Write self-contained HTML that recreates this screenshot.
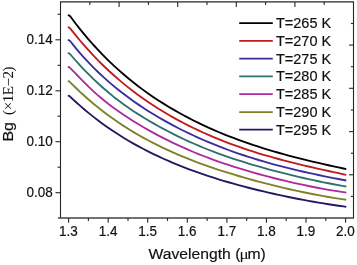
<!DOCTYPE html>
<html><head><meta charset="utf-8"><title>chart</title>
<style>html,body{margin:0;padding:0;background:#fff}svg{display:block;will-change:transform}text{font-family:"Liberation Sans",sans-serif;fill:#111;stroke:#111;stroke-width:0.18px}.s{font-family:"Liberation Serif",serif}</style></head><body>
<svg width="357" height="265" viewBox="0 0 357 265">
<rect width="357" height="265" fill="#fff"/>
<g stroke="#262626" stroke-width="1.1" fill="none">
<path d="M60.5,218.0 L60.5,1.9 L353.5,1.9 L353.5,218.0"/>
<line x1="57.9" y1="218.0" x2="354.05" y2="218.0" stroke-width="1.6" stroke="#444"/>
<line x1="68.6" y1="218.0" x2="68.6" y2="222.8"/>
<line x1="88.4" y1="218.0" x2="88.4" y2="220.9"/>
<line x1="108.2" y1="218.0" x2="108.2" y2="222.8"/>
<line x1="128.0" y1="218.0" x2="128.0" y2="220.9"/>
<line x1="147.7" y1="218.0" x2="147.7" y2="222.8"/>
<line x1="167.5" y1="218.0" x2="167.5" y2="220.9"/>
<line x1="187.3" y1="218.0" x2="187.3" y2="222.8"/>
<line x1="207.1" y1="218.0" x2="207.1" y2="220.9"/>
<line x1="226.9" y1="218.0" x2="226.9" y2="222.8"/>
<line x1="246.7" y1="218.0" x2="246.7" y2="220.9"/>
<line x1="266.4" y1="218.0" x2="266.4" y2="222.8"/>
<line x1="286.2" y1="218.0" x2="286.2" y2="220.9"/>
<line x1="306.0" y1="218.0" x2="306.0" y2="222.8"/>
<line x1="325.8" y1="218.0" x2="325.8" y2="220.9"/>
<line x1="345.6" y1="218.0" x2="345.6" y2="222.8"/>
<line x1="60.5" y1="39.8" x2="55.5" y2="39.8"/>
<line x1="60.5" y1="90.8" x2="55.5" y2="90.8"/>
<line x1="60.5" y1="141.7" x2="55.5" y2="141.7"/>
<line x1="60.5" y1="192.7" x2="55.5" y2="192.7"/>
<line x1="60.5" y1="14.3" x2="57.5" y2="14.3"/>
<line x1="60.5" y1="65.3" x2="57.5" y2="65.3"/>
<line x1="60.5" y1="116.2" x2="57.5" y2="116.2"/>
<line x1="60.5" y1="167.2" x2="57.5" y2="167.2"/>
<line x1="89.8" y1="1.9" x2="89.8" y2="4.9"/>
<line x1="119.1" y1="1.9" x2="119.1" y2="6.9"/>
<line x1="148.4" y1="1.9" x2="148.4" y2="4.9"/>
<line x1="177.7" y1="1.9" x2="177.7" y2="6.9"/>
<line x1="207.0" y1="1.9" x2="207.0" y2="4.9"/>
<line x1="236.3" y1="1.9" x2="236.3" y2="6.9"/>
<line x1="265.6" y1="1.9" x2="265.6" y2="4.9"/>
<line x1="294.9" y1="1.9" x2="294.9" y2="6.9"/>
<line x1="324.2" y1="1.9" x2="324.2" y2="4.9"/>
<line x1="353.5" y1="23.5" x2="350.9" y2="23.5"/>
<line x1="353.5" y1="45.1" x2="349.1" y2="45.1"/>
<line x1="353.5" y1="66.7" x2="350.9" y2="66.7"/>
<line x1="353.5" y1="88.3" x2="349.1" y2="88.3"/>
<line x1="353.5" y1="110.0" x2="350.9" y2="110.0"/>
<line x1="353.5" y1="131.6" x2="349.1" y2="131.6"/>
<line x1="353.5" y1="153.2" x2="350.9" y2="153.2"/>
<line x1="353.5" y1="174.8" x2="349.1" y2="174.8"/>
<line x1="353.5" y1="196.4" x2="350.9" y2="196.4"/>
</g>
<g fill="none" stroke-width="1.85" stroke-linecap="butt" stroke-linejoin="round">
<path d="M67.8,95.52 L69.3,95.92 L70.3,96.82 L71.5,97.96 L73.0,99.36 L75.0,101.2 L77.0,103.02 L80.0,105.68 L83.5,108.71 L88.5,112.88 L93.5,116.88 L98.5,120.72 L103.5,124.4 L108.5,127.94 L113.5,131.33 L118.5,134.59 L123.5,137.71 L128.5,140.71 L133.5,143.6 L138.5,146.37 L143.5,149.04 L148.5,151.6 L153.5,154.07 L158.5,156.45 L163.5,158.73 L168.5,160.94 L173.5,163.07 L178.5,165.12 L183.5,167.1 L188.5,169.02 L193.5,170.87 L198.5,172.66 L203.5,174.39 L208.5,176.07 L213.5,177.69 L218.5,179.26 L223.5,180.78 L228.5,182.26 L233.5,183.7 L238.5,185.09 L243.5,186.44 L248.5,187.75 L253.5,189.02 L258.5,190.26 L263.5,191.46 L268.5,192.63 L273.5,193.76 L278.5,194.86 L283.5,195.94 L288.5,196.98 L293.5,197.99 L298.5,198.97 L303.5,199.92 L308.5,200.84 L313.5,201.73 L318.5,202.59 L323.5,203.42 L328.5,204.22 L333.5,204.99 L338.5,205.73 L343.5,206.44 L346.3,206.83" stroke="#23195f"/>
<path d="M67.8,81.05 L69.3,81.45 L70.3,82.35 L71.5,83.56 L73.0,85.06 L75.0,87.03 L77.0,88.96 L80.0,91.81 L83.5,95.03 L88.5,99.48 L93.5,103.74 L98.5,107.82 L103.5,111.74 L108.5,115.5 L113.5,119.1 L118.5,122.55 L123.5,125.87 L128.5,129.05 L133.5,132.1 L138.5,135.04 L143.5,137.85 L148.5,140.56 L153.5,143.17 L158.5,145.67 L163.5,148.09 L168.5,150.41 L173.5,152.66 L178.5,154.82 L183.5,156.91 L188.5,158.93 L193.5,160.88 L198.5,162.77 L203.5,164.6 L208.5,166.37 L213.5,168.09 L218.5,169.76 L223.5,171.38 L228.5,172.96 L233.5,174.49 L238.5,175.99 L243.5,177.44 L248.5,178.86 L253.5,180.24 L258.5,181.58 L263.5,182.9 L268.5,184.18 L273.5,185.42 L278.5,186.64 L283.5,187.82 L288.5,188.98 L293.5,190.1 L298.5,191.18 L303.5,192.24 L308.5,193.26 L313.5,194.24 L318.5,195.19 L323.5,196.1 L328.5,196.97 L333.5,197.81 L338.5,198.59 L343.5,199.33 L346.3,199.73" stroke="#808026"/>
<path d="M67.8,66.84 L69.3,67.24 L70.3,68.14 L71.5,69.35 L73.0,70.88 L75.0,72.93 L77.0,74.99 L80.0,78.07 L83.5,81.63 L88.5,86.59 L93.5,91.33 L98.5,95.82 L103.5,100.03 L108.5,104.0 L113.5,107.75 L118.5,111.32 L123.5,114.74 L128.5,118.03 L133.5,121.2 L138.5,124.27 L143.5,127.24 L148.5,130.11 L153.5,132.89 L158.5,135.58 L163.5,138.18 L168.5,140.69 L173.5,143.11 L178.5,145.45 L183.5,147.71 L188.5,149.9 L193.5,152.01 L198.5,154.04 L203.5,156.01 L208.5,157.92 L213.5,159.76 L218.5,161.54 L223.5,163.27 L228.5,164.94 L233.5,166.57 L238.5,168.14 L243.5,169.67 L248.5,171.16 L253.5,172.6 L258.5,174.01 L263.5,175.37 L268.5,176.7 L273.5,177.99 L278.5,179.24 L283.5,180.46 L288.5,181.64 L293.5,182.79 L298.5,183.9 L303.5,184.97 L308.5,186.01 L313.5,187.02 L318.5,187.98 L323.5,188.91 L328.5,189.8 L333.5,190.65 L338.5,191.45 L343.5,192.21 L346.3,192.62" stroke="#ad2c9b"/>
<path d="M67.8,53.08 L69.3,53.48 L70.3,54.38 L71.5,55.77 L73.0,57.49 L75.0,59.76 L77.0,61.99 L80.0,65.28 L83.5,69.01 L88.5,74.15 L93.5,79.08 L98.5,83.79 L103.5,88.28 L108.5,92.56 L113.5,96.65 L118.5,100.54 L123.5,104.25 L128.5,107.78 L133.5,111.17 L138.5,114.4 L143.5,117.51 L148.5,120.5 L153.5,123.39 L158.5,126.19 L163.5,128.91 L168.5,131.54 L173.5,134.1 L178.5,136.58 L183.5,138.98 L188.5,141.29 L193.5,143.53 L198.5,145.68 L203.5,147.76 L208.5,149.76 L213.5,151.69 L218.5,153.55 L223.5,155.35 L228.5,157.09 L233.5,158.77 L238.5,160.41 L243.5,161.99 L248.5,163.53 L253.5,165.02 L258.5,166.48 L263.5,167.89 L268.5,169.27 L273.5,170.62 L278.5,171.93 L283.5,173.2 L288.5,174.45 L293.5,175.66 L298.5,176.85 L303.5,178.0 L308.5,179.12 L313.5,180.21 L318.5,181.27 L323.5,182.29 L328.5,183.28 L333.5,184.24 L338.5,185.16 L343.5,186.04 L346.3,186.51" stroke="#2f6f6f"/>
<path d="M67.8,39.97 L69.3,40.37 L70.3,41.27 L71.5,42.8 L73.0,44.69 L75.0,47.15 L77.0,49.56 L80.0,53.08 L83.5,57.05 L88.5,62.46 L93.5,67.6 L98.5,72.5 L103.5,77.16 L108.5,81.6 L113.5,85.85 L118.5,89.92 L123.5,93.82 L128.5,97.57 L133.5,101.16 L138.5,104.63 L143.5,107.96 L148.5,111.17 L153.5,114.27 L158.5,117.26 L163.5,120.14 L168.5,122.92 L173.5,125.61 L178.5,128.21 L183.5,130.73 L188.5,133.16 L193.5,135.51 L198.5,137.79 L203.5,140.0 L208.5,142.13 L213.5,144.2 L218.5,146.2 L223.5,148.13 L228.5,150.0 L233.5,151.81 L238.5,153.56 L243.5,155.25 L248.5,156.89 L253.5,158.47 L258.5,160.0 L263.5,161.48 L268.5,162.91 L273.5,164.29 L278.5,165.63 L283.5,166.93 L288.5,168.18 L293.5,169.4 L298.5,170.59 L303.5,171.74 L308.5,172.85 L313.5,173.94 L318.5,175.01 L323.5,176.04 L328.5,177.06 L333.5,178.06 L338.5,179.03 L343.5,180.0 L346.3,180.53" stroke="#3a2d9c"/>
<path d="M67.8,27.22 L69.3,27.62 L70.3,28.52 L71.5,30.06 L73.0,31.95 L75.0,34.45 L77.0,36.9 L80.0,40.5 L83.5,44.58 L88.5,50.21 L93.5,55.6 L98.5,60.77 L103.5,65.73 L108.5,70.48 L113.5,75.04 L118.5,79.42 L123.5,83.62 L128.5,87.65 L133.5,91.53 L138.5,95.25 L143.5,98.83 L148.5,102.27 L153.5,105.58 L158.5,108.76 L163.5,111.83 L168.5,114.78 L173.5,117.63 L178.5,120.38 L183.5,123.02 L188.5,125.58 L193.5,128.04 L198.5,130.42 L203.5,132.72 L208.5,134.93 L213.5,137.07 L218.5,139.14 L223.5,141.13 L228.5,143.05 L233.5,144.91 L238.5,146.7 L243.5,148.42 L248.5,150.09 L253.5,151.7 L258.5,153.26 L263.5,154.77 L268.5,156.23 L273.5,157.64 L278.5,159.01 L283.5,160.34 L288.5,161.63 L293.5,162.89 L298.5,164.12 L303.5,165.32 L308.5,166.5 L313.5,167.65 L318.5,168.79 L323.5,169.91 L328.5,171.02 L333.5,172.12 L338.5,173.22 L343.5,174.31 L346.3,174.93" stroke="#c21a1e"/>
<path d="M67.8,15.12 L69.3,15.52 L70.3,16.42 L71.5,18.05 L73.0,20.06 L75.0,22.7 L77.0,25.29 L80.0,29.1 L83.5,33.41 L88.5,39.33 L93.5,45.0 L98.5,50.42 L103.5,55.61 L108.5,60.58 L113.5,65.35 L118.5,69.91 L123.5,74.29 L128.5,78.49 L133.5,82.53 L138.5,86.4 L143.5,90.13 L148.5,93.7 L153.5,97.14 L158.5,100.45 L163.5,103.64 L168.5,106.71 L173.5,109.66 L178.5,112.51 L183.5,115.26 L188.5,117.91 L193.5,120.46 L198.5,122.93 L203.5,125.31 L208.5,127.61 L213.5,129.83 L218.5,131.98 L223.5,134.05 L228.5,136.05 L233.5,137.98 L238.5,139.85 L243.5,141.66 L248.5,143.4 L253.5,145.09 L258.5,146.72 L263.5,148.31 L268.5,149.84 L273.5,151.32 L278.5,152.76 L283.5,154.16 L288.5,155.52 L293.5,156.84 L298.5,158.13 L303.5,159.38 L308.5,160.61 L313.5,161.8 L318.5,162.97 L323.5,164.12 L328.5,165.25 L333.5,166.35 L338.5,167.45 L343.5,168.52 L346.3,169.12" stroke="#000000"/>
</g>
<g font-size="13.5" text-anchor="end">
<text transform="translate(52.8,44.1) scale(1,1.045)">0.14</text>
<text transform="translate(52.8,95.0) scale(1,1.045)">0.12</text>
<text transform="translate(52.8,146.0) scale(1,1.045)">0.10</text>
<text transform="translate(52.8,197.0) scale(1,1.045)">0.08</text>
</g>
<g font-size="13.5" text-anchor="middle">
<text transform="translate(68.5,236.2) scale(1,1.045)">1.3</text>
<text transform="translate(108.1,236.2) scale(1,1.045)">1.4</text>
<text transform="translate(147.6,236.2) scale(1,1.045)">1.5</text>
<text transform="translate(187.2,236.2) scale(1,1.045)">1.6</text>
<text transform="translate(226.8,236.2) scale(1,1.045)">1.7</text>
<text transform="translate(266.3,236.2) scale(1,1.045)">1.8</text>
<text transform="translate(305.9,236.2) scale(1,1.045)">1.9</text>
<text transform="translate(345.5,236.2) scale(1,1.045)">2.0</text>
</g>
<text transform="translate(148.5,259.0) scale(1,0.89)" font-size="15.7">Wavelength (</text>
<text class="s" transform="translate(239.4,259.0) scale(1.15,0.93)" font-size="14.8" style="stroke-width:0.05px">μ</text>
<text transform="translate(247.4,259.0) scale(1,0.89)" font-size="15.7">m)</text>
<text transform="translate(13.3,141.6) rotate(-90) scale(1,0.93)" font-size="16">Bg</text>
<text class="s" transform="translate(12.6,114.9) rotate(-90) scale(1,0.96)" font-size="15" letter-spacing="-0.44" style="stroke-width:0.08px">(×1E−2)</text>
<g stroke-width="1.75" fill="none">
<line x1="239.2" y1="23.0" x2="272.8" y2="23.0" stroke="#000000"/>
<line x1="239.2" y1="40.8" x2="272.8" y2="40.8" stroke="#c21a1e"/>
<line x1="239.2" y1="58.5" x2="272.8" y2="58.5" stroke="#3a2d9c"/>
<line x1="239.2" y1="76.4" x2="272.8" y2="76.4" stroke="#2f6f6f"/>
<line x1="239.2" y1="94.0" x2="272.8" y2="94.0" stroke="#ad2c9b"/>
<line x1="239.2" y1="112.0" x2="272.8" y2="112.0" stroke="#808026"/>
<line x1="239.2" y1="129.7" x2="272.8" y2="129.7" stroke="#23195f"/>
</g>
<g font-size="14.5">
<text transform="translate(276,28.0) scale(1,1.045)">T=265 K</text>
<text transform="translate(276,45.8) scale(1,1.045)">T=270 K</text>
<text transform="translate(276,63.5) scale(1,1.045)">T=275 K</text>
<text transform="translate(276,81.4) scale(1,1.045)">T=280 K</text>
<text transform="translate(276,99.0) scale(1,1.045)">T=285 K</text>
<text transform="translate(276,117.0) scale(1,1.045)">T=290 K</text>
<text transform="translate(276,134.7) scale(1,1.045)">T=295 K</text>
</g>
</svg></body></html>
